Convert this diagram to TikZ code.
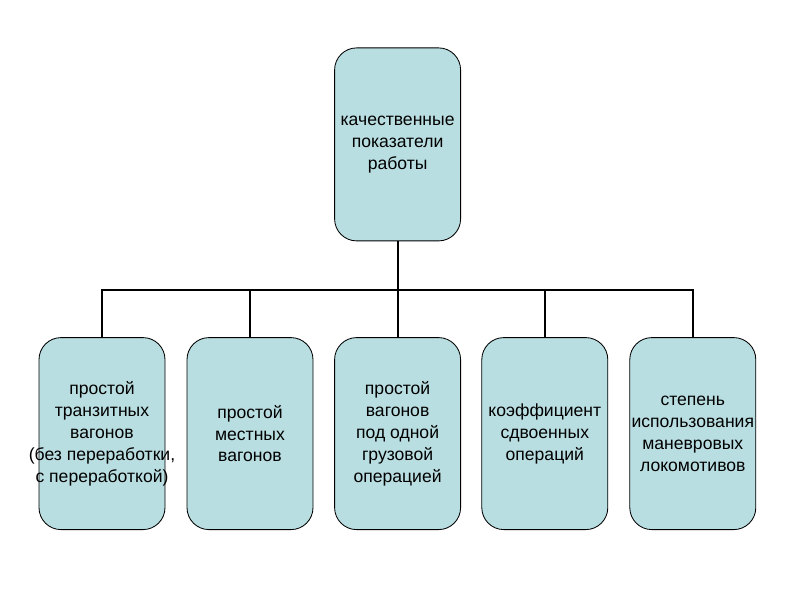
\documentclass[tikz,border=0pt]{standalone}
\usepackage{fontspec}
\setmainfont{Liberation Sans}
\usetikzlibrary{positioning}
\definecolor{boxfill}{RGB}{185,222,225}

\begin{document}
\begin{tikzpicture}[
    box/.style={draw=black, line width=0.6pt, fill=boxfill, rounded corners=0.55cm,
                minimum width=3.15cm, minimum height=4.8cm, inner sep=0pt},
    txt/.style={align=center, inner sep=0pt, font=\fontsize{12.5}{15.6}\selectfont},
    link/.style={line width=1.5pt}
  ]
  \useasboundingbox (0,0) rectangle (20,15);

  % верхний блок
  \node[box, minimum height=4.825cm] (top) at (9.94,11.39) {};
  \node[txt] (toptext) at (top) {качественные\\показатели\\работы};

  % нижние блоки
  \node[box] (b1) at (2.55,4.16) {};
  \node[box] (b2) at (6.25,4.16) {};
  \node[box] (b3) at (9.94,4.16) {};
  \node[box] (b4) at (13.62,4.16) {};
  \node[box] (b5) at (17.32,4.16) {};

  \node[txt] (b1text) at (b1) {простой\\транзитных\\вагонов\\(без переработки,\\с переработкой)};
  \node[txt] (b2text) at (b2) {простой\\местных\\вагонов};
  \node[txt] (b3text) at (b3) {простой\\вагонов\\под одной\\грузовой\\операцией};
  \node[txt] (b4text) at (b4) {коэффициент\\сдвоенных\\операций};
  \node[txt] (b5text) at (b5) {степень\\использования\\маневровых\\локомотивов};

  % соединения
  \coordinate (bus) at (9.94,7.75);
  \draw[link] (top.south) -- (top.south |- bus);
  \draw[link] (b1.north) |- (b5.north |- bus) -- (b5.north);
  \foreach \i in {2,3,4}
    \draw[link] (b\i.north) -- (b\i.north |- bus);
\end{tikzpicture}
\end{document}
